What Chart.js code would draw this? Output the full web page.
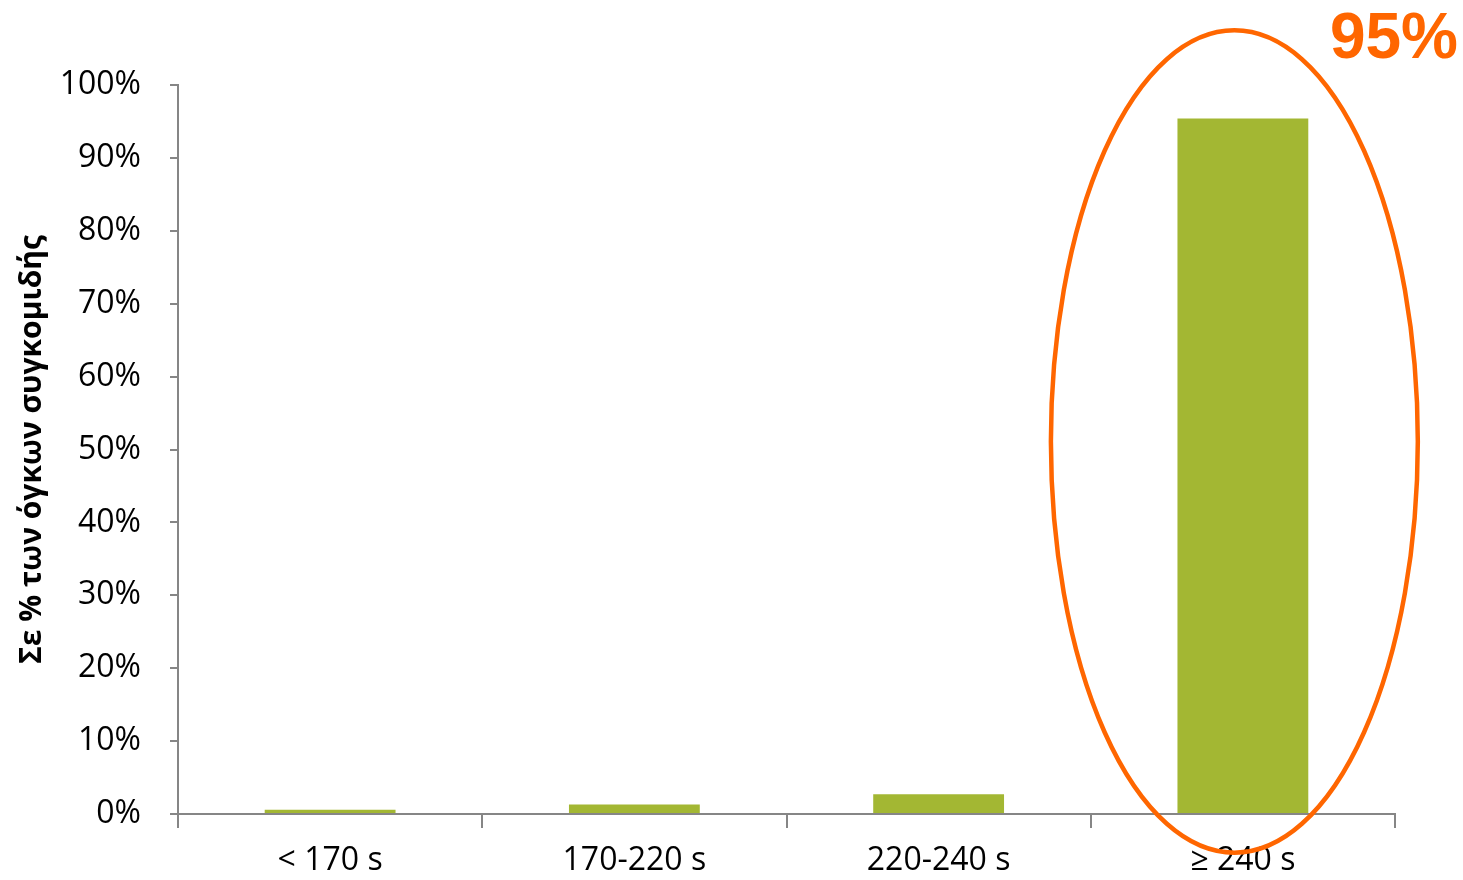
<!DOCTYPE html>
<html>
<head>
<meta charset="utf-8">
<script src="https://cdn.jsdelivr.net/npm/chart.js@4/dist/chart.umd.min.js"></script>
<style>
  html, body { margin: 0; padding: 0; background: #ffffff; }
  #wrap { width: 1463px; height: 880px; position: relative; }
</style>
</head>
<body>
<div id="wrap"><canvas id="c" width="1463" height="880"></canvas></div>
<script>
// Harvest-volume share by duration class
const categories = ['< 170 s', '170-220 s', '220-240 s', '\u2265 240 s'];
const shares = [0.6, 1.3, 2.7, 95.4];
const yTicks = [0, 10, 20, 30, 40, 50, 60, 70, 80, 90, 100];
const yTitle = 'Σε % των όγκων συγκομιδής';
const highlightIndex = 3;

const tickFont = { family: '"Open Sans", sans-serif', size: 32 };

// Ellipse around the highlighted bar plus its rounded value
const highlightPlugin = {
  id: 'highlight',
  afterDatasetsDraw(chart) {
    const { ctx, scales } = chart;
    const x = scales.x, y = scales.y;
    const slot = x.width / categories.length;
    const cx = x.getPixelForValue(highlightIndex) - slot * 0.028;
    const top = y.getPixelForValue(107.5);
    const bottom = y.getPixelForValue(-5.3);
    const cy = (top + bottom) / 2;
    const ry = (bottom - top) / 2;
    const rx = slot * 0.603;
    ctx.save();
    ctx.beginPath();
    ctx.ellipse(cx, cy, rx, ry, 0, 0, Math.PI * 2);
    ctx.strokeStyle = '#FF6600';
    ctx.lineWidth = 4.5;
    ctx.stroke();
    ctx.fillStyle = '#FF6600';
    ctx.font = 'bold 64px "Liberation Sans", Arial, sans-serif';
    ctx.textAlign = 'right';
    ctx.textBaseline = 'alphabetic';
    ctx.fillText(Math.round(shares[highlightIndex]) + '%', 1458, 58);
    ctx.restore();
  }
};

new Chart(document.getElementById('c'), {
  type: 'bar',
  data: {
    labels: categories,
    datasets: [{
      data: shares,
      backgroundColor: '#A3B733',
      barPercentage: 0.43,
      categoryPercentage: 1.0
    }]
  },
  options: {
    responsive: false,
    animation: false,
    devicePixelRatio: 1,
    layout: { padding: { left: 0, right: 68, top: 85, bottom: 0 } },
    plugins: {
      legend: { display: false },
      tooltip: { enabled: false }
    },
    scales: {
      x: {
        offset: true,
        grid: {
          offset: true,
          drawOnChartArea: false,
          drawTicks: true,
          tickLength: 14,
          color: '#868686',
          lineWidth: 2
        },
        border: { display: true, color: '#868686', width: 2 },
        ticks: { color: '#000000', font: tickFont, padding: 14, maxRotation: 0 },
        afterFit(scale) { scale.height = 66; }
      },
      y: {
        min: 0,
        max: 100,
        afterBuildTicks(scale) { scale.ticks = yTicks.map(v => ({ value: v })); },
        grid: {
          drawOnChartArea: false,
          drawTicks: true,
          tickLength: 8,
          color: '#868686',
          lineWidth: 2
        },
        border: { display: true, color: '#868686', width: 2 },
        ticks: {
          color: '#000000',
          font: tickFont,
          padding: 29,
          callback: v => v + '%'
        },
        title: {
          display: true,
          text: yTitle,
          color: '#000000',
          font: { family: '"Open Sans", sans-serif', size: 30, weight: 'bold' },
          padding: { top: 14, bottom: 0 }
        },
        afterFit(scale) { scale.width = 178; }
      }
    }
  },
  plugins: [highlightPlugin]
});
</script>
</body>
</html>
